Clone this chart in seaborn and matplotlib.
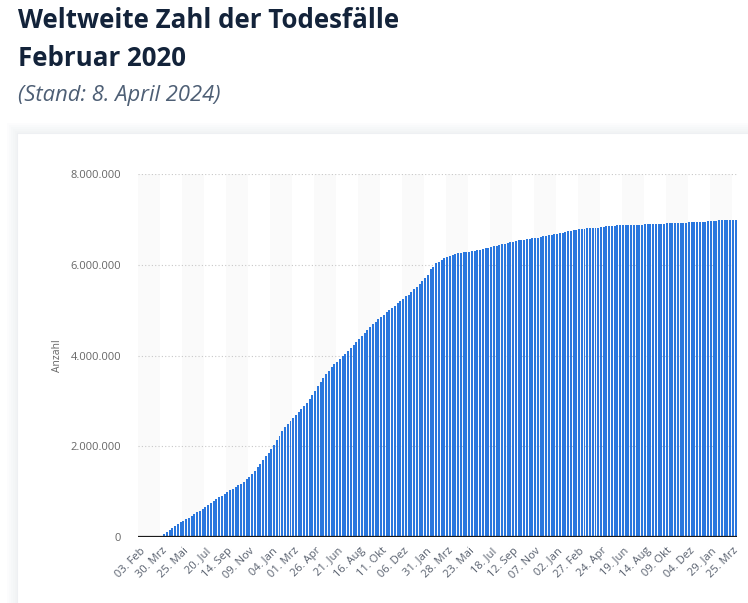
import numpy as np
import pandas as pd
import seaborn as sns
import matplotlib.pyplot as plt
from matplotlib.patches import Rectangle

# kumulierte Todesfälle weltweit in Mio., wöchentlich ab 03.02.2020
first_week = '2020-02-03'
deaths_mio = [
    0.0004, 0.0009, 0.0018, 0.0027, 0.0031, 0.004, 0.007, 0.016,
    0.022, 0.066, 0.11, 0.154, 0.198, 0.24, 0.29, 0.33,
    0.35, 0.40, 0.42, 0.46, 0.51, 0.55, 0.57, 0.62,
    0.66, 0.70, 0.75, 0.79, 0.84, 0.88, 0.90, 0.95,
    0.99, 1.04, 1.06, 1.10, 1.15, 1.17, 1.21, 1.28,
    1.32, 1.39, 1.45, 1.54, 1.61, 1.70, 1.79, 1.85,
    1.94, 2.03, 2.14, 2.23, 2.34, 2.42, 2.49, 2.56,
    2.62, 2.69, 2.75, 2.82, 2.89, 2.95, 3.04, 3.13,
    3.22, 3.33, 3.42, 3.50, 3.59, 3.66, 3.75, 3.81,
    3.86, 3.92, 3.99, 4.03, 4.10, 4.17, 4.23, 4.30,
    4.36, 4.43, 4.50, 4.56, 4.63, 4.69, 4.74, 4.80,
    4.85, 4.89, 4.96, 5.00, 5.05, 5.09, 5.16, 5.20,
    5.25, 5.31, 5.33, 5.40, 5.47, 5.51, 5.58, 5.64,
    5.71, 5.77, 5.90, 5.96, 6.03, 6.07, 6.11, 6.15,
    6.17, 6.19, 6.21, 6.23, 6.25, 6.26, 6.27, 6.28,
    6.29, 6.30, 6.31, 6.32, 6.33, 6.35, 6.36, 6.37,
    6.39, 6.41, 6.42, 6.43, 6.45, 6.46, 6.48, 6.50,
    6.51, 6.52, 6.54, 6.55, 6.55, 6.56, 6.57, 6.58,
    6.59, 6.60, 6.62, 6.63, 6.64, 6.65, 6.66, 6.67,
    6.68, 6.69, 6.70, 6.72, 6.74, 6.75, 6.76, 6.77,
    6.78, 6.79, 6.79, 6.80, 6.80, 6.81, 6.81, 6.82,
    6.83, 6.84, 6.85, 6.86, 6.86, 6.86, 6.87, 6.88,
    6.88, 6.88, 6.88, 6.88, 6.88, 6.88, 6.88, 6.88,
    6.90, 6.90, 6.90, 6.90, 6.90, 6.90, 6.90, 6.90,
    6.91, 6.92, 6.92, 6.92, 6.92, 6.92, 6.92, 6.92,
    6.94, 6.94, 6.94, 6.94, 6.94, 6.94, 6.94, 6.96,
    6.96, 6.96, 6.96, 6.985, 6.985, 6.985, 6.985, 6.985,
    6.985, 6.985,
]
tick_labels = [
    '03. Feb', '30. Mrz', '25. Mai', '20. Jul', '14. Sep', '09. Nov',
    '04. Jan', '01. Mrz', '26. Apr', '21. Jun', '16. Aug', '11. Okt',
    '06. Dez', '31. Jan', '28. Mrz', '23. Mai', '18. Jul', '12. Sep',
    '07. Nov', '02. Jan', '27. Feb', '24. Apr', '19. Jun', '14. Aug',
    '09. Okt', '04. Dez', '29. Jan', '25. Mrz',
]
tick_step = 8

weeks = pd.date_range(first_week, periods=len(deaths_mio), freq='7D')
df = pd.DataFrame({'woche': weeks.strftime('%Y-%m-%d'),
                   'anzahl': np.array(deaths_mio) * 1e6})

sns.set_style('white')
plt.rcParams['font.family'] = ['Open Sans', 'DejaVu Sans']

W, H = 748, 603
fig = plt.figure(figsize=(W / 100, H / 100), dpi=100)
fig.patch.set_facecolor('white')

# Karte mit leichtem Schatten
for i in range(6):
    fig.patches.append(Rectangle(((17 - i * 2) / W, -0.1), 1.2, (H - 133 + i * 2) / H + 0.1,
                                 transform=fig.transFigure, facecolor='#d5dae2',
                                 alpha=0.06, edgecolor='none', zorder=-2))
fig.patches.append(Rectangle((17 / W, -0.1), 1.2, (H - 133) / H + 0.1,
                             transform=fig.transFigure, facecolor='white',
                             edgecolor='#eef0f3', linewidth=0.8, zorder=-1))

fig.text(18 / W, 1 - 28 / H, 'Weltweite Zahl der Todesfälle', fontsize=18.6,
         fontweight='bold', color='#13233a', va='baseline')
fig.text(18 / W, 1 - 66 / H, 'Februar 2020', fontsize=18.6,
         fontweight='bold', color='#13233a', va='baseline')
fig.text(18 / W, 1 - 101 / H, '(Stand: 8. April 2024)', fontsize=15.8,
         style='italic', color='#4e5f75', va='baseline')

ax = fig.add_axes([138 / W, 66 / H, 599 / W, 363 / H])
ax.set_zorder(5)
ax.set_facecolor('none')

for k in range(0, len(tick_labels), 2):
    ax.axvspan(k * tick_step - 0.5, k * tick_step + tick_step - 0.5,
               color='#fafafa', zorder=0, linewidth=0)

sns.barplot(data=df, x='woche', y='anzahl', color='#2a77de', saturation=1,
            width=0.72, linewidth=0, ax=ax, zorder=2)

ax.set_ylim(0, 8e6)
ax.set_xlim(-0.5, len(deaths_mio) - 0.5)
ax.set_yticks([0, 2e6, 4e6, 6e6, 8e6])
ax.set_yticklabels([f'{v:,.0f}'.replace(',', '.') for v in ax.get_yticks()])
ax.yaxis.grid(True, linestyle=(0, (1, 2)), color='#c8c8c8', linewidth=0.8)
ax.set_axisbelow(True)
ax.axhline(0, color='#1a1a1a', linewidth=1.6, zorder=3)
sns.despine(ax=ax, left=True, bottom=True)

ax.set_xticks(range(0, len(deaths_mio), tick_step))
ax.set_xticklabels(tick_labels, rotation=45, ha='right', rotation_mode='anchor')
ax.tick_params(axis='x', length=0, pad=6, labelsize=8, labelcolor='#58606e')
ax.tick_params(axis='y', length=0, pad=12, labelsize=8, labelcolor='#666666')

ax.set_xlabel('')
ax.set_ylabel('Anzahl', fontsize=7.5, color='#666666')
ax.yaxis.set_label_coords(-(138 - 63) / 599, 0.5)

fig.savefig('out.png', dpi=100)
